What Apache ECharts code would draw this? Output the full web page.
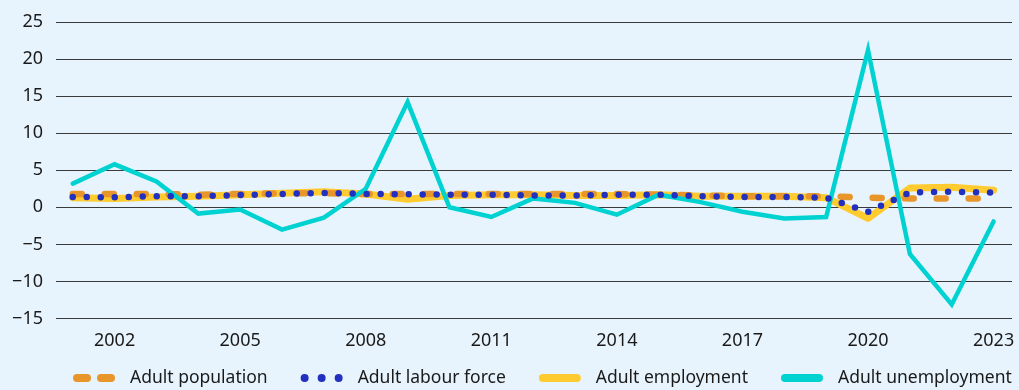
<!DOCTYPE html>
<html>
<head>
<meta charset="utf-8">
<script src="https://cdn.jsdelivr.net/npm/echarts@6/dist/echarts.min.js"></script>
<style>
  html, body { margin: 0; padding: 0; background: #e8f4fd; }
  #chart { width: 1019px; height: 390px; }
</style>
</head>
<body>
<div id="chart"></div>
<script>
// Annual growth rates (%), 2001–2023
const years = [2001, 2002, 2003, 2004, 2005, 2006, 2007, 2008, 2009, 2010, 2011, 2012,
               2013, 2014, 2015, 2016, 2017, 2018, 2019, 2020, 2021, 2022, 2023];
const adultPopulation = [1.8, 1.8, 1.8, 1.7, 1.8, 1.9, 1.9, 1.8, 1.8, 1.8, 1.8, 1.8,
                         1.8, 1.8, 1.7, 1.6, 1.5, 1.5, 1.5, 1.3, 1.2, 1.2, 1.2];
const adultLabourForce = [1.4, 1.35, 1.5, 1.5, 1.65, 1.8, 1.95, 1.8, 1.75, 1.7, 1.7, 1.6,
                          1.6, 1.7, 1.7, 1.5, 1.4, 1.4, 1.3, -0.6, 2.0, 2.1, 2.0];
const adultEmployment = [1.3, 1.2, 1.4, 1.5, 1.7, 1.9, 2.1, 1.8, 1.1, 1.6, 1.7, 1.7,
                         1.6, 1.6, 1.7, 1.5, 1.5, 1.5, 1.3, -1.5, 2.6, 2.7, 2.3];
const adultUnemployment = [3.2, 5.8, 3.5, -0.85, -0.3, -3.0, -1.4, 2.5, 14.2, 0.0, -1.3, 1.2,
                           0.6, -1.0, 1.7, 0.7, -0.6, -1.5, -1.3, 21.2, -6.3, -13.1, -1.9];
const yearLabels = [2002, 2005, 2008, 2011, 2014, 2017, 2020, 2023];
const seriesNames = ['Adult population', 'Adult labour force', 'Adult employment', 'Adult unemployment'];

const FONT = 'Noto Sans';
const pairs = vals => years.map((y, i) => [y, vals[i]]);

const chart = echarts.init(document.getElementById('chart'), null, { renderer: 'canvas' });

chart.setOption({
  backgroundColor: '#e8f4fd',
  animation: false,
  textStyle: { fontFamily: FONT },
  grid: { left: 56, right: 7, top: 22, bottom: 71.5, containLabel: false },
  xAxis: {
    type: 'value',
    min: 2000.6,
    max: 2023.44,
    axisLine: { show: false },
    axisTick: { show: false },
    splitLine: { show: false },
    axisLabel: {
      customValues: yearLabels,
      color: '#1a1a1a',
      fontSize: 18,
      fontFamily: FONT,
      margin: 13,
      formatter: v => String(v)
    }
  },
  yAxis: {
    type: 'value',
    min: -15,
    max: 25,
    interval: 5,
    axisLine: { show: false },
    axisTick: { show: false },
    splitLine: { lineStyle: { color: '#3a3a3a', width: 1 } },
    axisLabel: {
      color: '#1a1a1a',
      fontSize: 18,
      fontFamily: FONT,
      margin: 13,
      formatter: v => String(v).replace('-', '\u2212')
    }
  },
  legend: {
    left: 73,
    top: 369,
    width: 946,
    padding: 0,
    itemWidth: 42,
    itemHeight: 8,
    itemGap: 33,
    textStyle: { color: '#1a1a1a', fontSize: 17.5, fontFamily: FONT, padding: [0, 0, 0, 10] },
    data: [
      { name: seriesNames[0], icon: 'path://M4,0 H14 A4,4 0 0 1 14,8 H4 A4,4 0 0 1 4,0 Z M28,0 H38 A4,4 0 0 1 38,8 H28 A4,4 0 0 1 28,0 Z' },
      { name: seriesNames[1], icon: 'path://M0,4 A4,4 0 1 0 8,4 A4,4 0 1 0 0,4 Z M17,4 A4,4 0 1 0 25,4 A4,4 0 1 0 17,4 Z M34,4 A4,4 0 1 0 42,4 A4,4 0 1 0 34,4 Z' },
      { name: seriesNames[2], icon: 'path://M4,0 H38 A4,4 0 0 1 38,8 H4 A4,4 0 0 1 4,0 Z' },
      { name: seriesNames[3], icon: 'path://M4,0 H38 A4,4 0 0 1 38,8 H4 A4,4 0 0 1 4,0 Z' }
    ]
  },
  series: [
    {
      name: seriesNames[2],
      type: 'line',
      data: pairs(adultEmployment),
      showSymbol: false,
      z: 1,
      color: '#ffcb2f',
      lineStyle: { color: '#ffcb2f', width: 7, cap: 'round', join: 'round' }
    },
    {
      name: seriesNames[0],
      type: 'line',
      data: pairs(adultPopulation),
      showSymbol: false,
      z: 2,
      color: '#e8952a',
      lineStyle: { color: '#e8952a', width: 6.5, type: [9, 23], cap: 'round', join: 'round' }
    },
    {
      name: seriesNames[3],
      type: 'line',
      data: pairs(adultUnemployment),
      showSymbol: false,
      z: 3,
      color: '#00d2d2',
      lineStyle: { color: '#00d2d2', width: 4.5, cap: 'round', join: 'miter' }
    },
    {
      name: seriesNames[1],
      type: 'line',
      data: pairs(adultLabourForce),
      showSymbol: false,
      z: 4,
      color: '#2230c0',
      lineStyle: { color: '#2230c0', width: 6.5, type: [0, 14], cap: 'round', join: 'round' }
    }
  ]
});
</script>
</body>
</html>
